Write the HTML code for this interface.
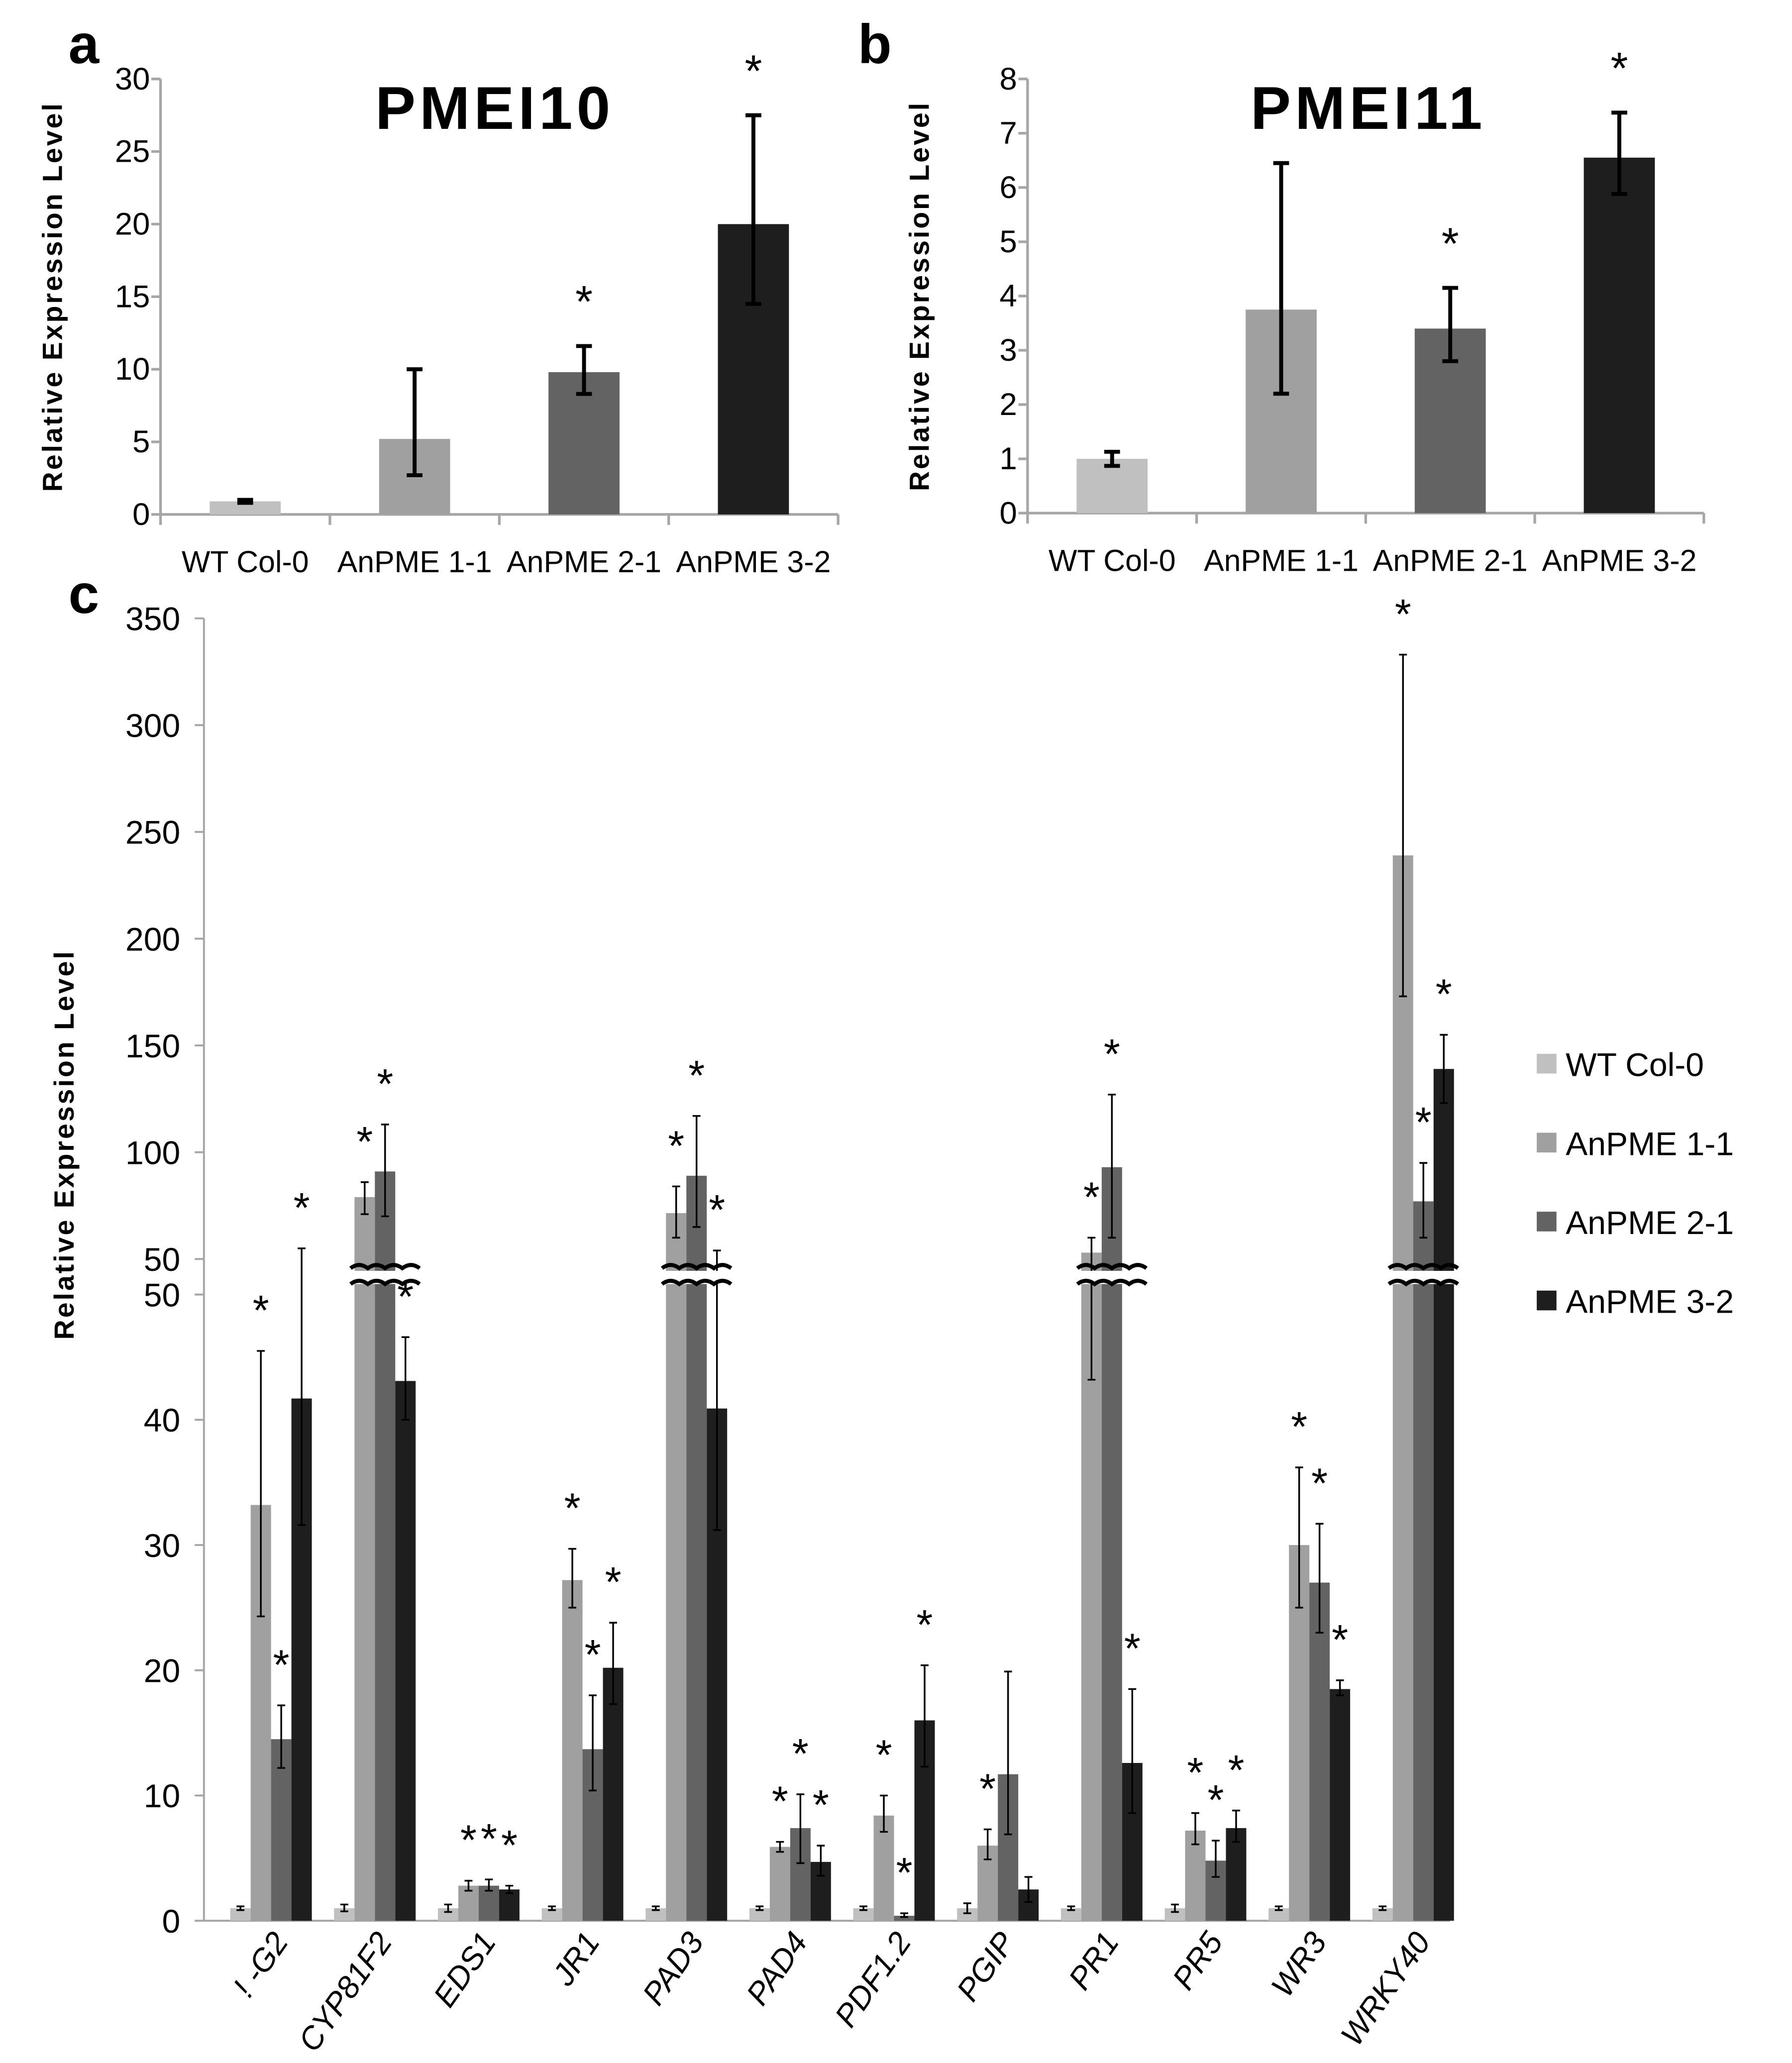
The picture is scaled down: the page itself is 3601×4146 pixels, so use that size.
<!DOCTYPE html>
<html><head><meta charset="utf-8"><style>
html,body{margin:0;padding:0;background:#fff;}
svg{display:block;}
text{font-family:"Liberation Sans Narrow","Liberation Sans",sans-serif;fill:#000;}
.b{font-family:"Liberation Sans",sans-serif;font-weight:bold;}
</style></head><body>
<svg id="fig" xmlns="http://www.w3.org/2000/svg" width="3601" height="4146" viewBox="0 0 1362 1568.1">
<rect width="1362" height="1568.1" fill="#fff"/>
<g id="ga"></g>
<g id="gb"></g>
<g id="gc"></g>
</svg>
<script>
const colors=["#c0c0c0","#a0a0a0","#636363","#1e1e1e"];
const seriesNames=["WT Col-0","AnPME 1-1","AnPME 2-1","AnPME 3-2"];
// panel a
const aVals=[0.9,5.2,9.8,20];
const aLo=[0.8,2.7,8.3,14.5];
const aHi=[1.0,10,11.6,27.5];
const aStar=[false,false,true,true];
const aTicks=[0,5,10,15,20,25,30];
// panel b
const bVals=[1.0,3.75,3.4,6.55];
const bLo=[0.87,2.2,2.8,5.88];
const bHi=[1.13,6.45,4.15,7.38];
const bStar=[false,false,true,true];
const bTicks=[0,1,2,3,4,5,6,7,8];
// panel c
const genes=["! -G2","CYP81F2","EDS1","JR1","PAD3","PAD4","PDF1.2","PGIP","PR1","PR5","WR3","WRKY40"];
const cWT=[1,1,1,1,1,1,1,1,1,1,1,1];
const cWTlo=[0.85,0.75,0.7,0.85,0.85,0.85,0.85,0.6,0.85,0.7,0.85,0.85];
const cWThi=[1.15,1.3,1.3,1.15,1.15,1.15,1.15,1.4,1.15,1.3,1.15,1.15];
const c11=[33.2,79,2.8,27.2,71.5,5.9,8.4,6,53,7.2,30,239];
const c11lo=[24.3,71,2.4,25,60,5.5,7.1,4.9,43.2,6.1,25,173];
const c11hi=[45.5,86,3.2,29.7,84,6.3,10,7.3,60,8.6,36.2,333];
const c21=[14.5,91,2.8,13.7,89,7.4,0.4,11.7,93,4.8,27,77];
const c21lo=[12.2,70,2.4,10.4,65,4.6,0.3,6.9,60,3.5,23,60];
const c21hi=[17.2,113,3.3,18,117,10.1,0.6,19.9,127,6.4,31.7,95];
const c32=[41.7,43.1,2.5,20.2,40.9,4.7,16,2.5,12.6,7.4,18.5,139];
const c32lo=[31.6,40,2.2,17.3,31.2,3.6,12.3,1.5,8.6,6.3,18,123];
const c32hi=[55,46.6,2.8,23.8,54,6,20.4,3.5,18.5,8.8,19.2,155];
const cStar11=[1,1,1,1,1,1,1,1,1,1,1,1];
const cStar21=[1,1,1,1,1,1,1,0,1,1,1,1];
const cStar32=[1,1,1,1,1,1,1,0,1,1,1,1];
const cStarWT=[0,0,0,0,0,0,0,0,0,0,0,0];
const cLowTicks=[0,10,20,30,40,50];
const cHighTicks=[50,100,150,200,250,300,350];

const NS="http://www.w3.org/2000/svg";
function mk(parent,tag,attrs,txt){const e=document.createElementNS(NS,tag);for(const k in attrs)e.setAttribute(k,attrs[k]);if(txt!==undefined)e.textContent=txt;parent.appendChild(e);return e;}

function smallPanel(g,vals,lo,hi,stars,ticks,o){
  const y=v=>o.y0-(v/o.max)*(o.y0-o.yTop);
  const ax=mk(g,'line',{x1:o.x0,y1:o.yTop,x2:o.x0,y2:o.y0,stroke:'#a6a6a6','stroke-width':2});
  
  
  const xa=mk(g,'line',{x1:o.x0,y1:o.y0,x2:o.x1,y2:o.y0,stroke:'#a6a6a6','stroke-width':2});
  
  
  ticks.forEach(t=>{
    mk(g,'line',{x1:o.x0-7,y1:y(t),x2:o.x0,y2:y(t),stroke:'#a6a6a6','stroke-width':2});
    const tl=mk(g,'text',{x:o.x0-8,y:y(t)+8,'text-anchor':'end','font-size':24},String(t));
    
    
  });
  const cw=(o.x1-o.x0)/vals.length;
  for(let i=0;i<=vals.length;i++) mk(g,'line',{x1:o.x0+cw*i,y1:o.y0,x2:o.x0+cw*i,y2:o.y0+8,stroke:'#a6a6a6','stroke-width':2});
  vals.forEach((v,i)=>{
    const cx=o.x0+cw*(i+0.5), w=54;
    const r=mk(g,'rect',{x:cx-w/2,y:y(v),width:w,height:o.y0-y(v),fill:colors[i]});
    
    
    const eb=mk(g,'path',{d:`M${cx},${y(lo[i])}V${y(hi[i])}M${cx-6},${y(lo[i])}H${cx+6}M${cx-6},${y(hi[i])}H${cx+6}`,stroke:'#000','stroke-width':3,fill:'none'});
    
    
    if(stars[i]){const s=mk(g,'text',{x:cx,y:y(hi[i])-22,'text-anchor':'middle','font-size':34},'*');
      
      }
    const cl=mk(g,'text',{x:cx,y:o.y0+44,'text-anchor':'middle','font-size':23},seriesNames[i]);
    
    
  });
  const t=mk(g,'text',{x:o.tx,y:98,'text-anchor':'middle','font-size':46,class:'b','letter-spacing':3},o.title);
  
  
  const yl=mk(g,'text',{x:0,y:0,transform:`translate(${o.x0-75},${(o.yTop+o.y0)/2}) rotate(-90)`,'text-anchor':'middle','font-size':21,class:'b','letter-spacing':1.5},'Relative Expression Level');
  
  
  const pl=mk(g,'text',{x:o.lx,y:48,'font-size':42,class:'b'},o.letter);
  
  
}
smallPanel(document.getElementById('ga'),aVals,aLo,aHi,aStar,aTicks,{x0:122,x1:637,yTop:60,y0:391,max:30,title:'PMEI10',tx:376,letter:'a',lx:52});
smallPanel(document.getElementById('gb'),bVals,bLo,bHi,bStar,bTicks,{x0:781,x1:1295,yTop:60,y0:390,max:8,title:'PMEI11',tx:1040,letter:'b',lx:652});

// panel c
const gc=document.getElementById('gc');
const X0=155,X1=1102,Y0=1460,Y50L=984,Y50H=957,YTOP=470;
function yc(v){ if(v<=50) return Y0-v*(Y0-Y50L)/50; return Y50H-(v-50)*(Y50H-YTOP)/300; }
const cax=mk(gc,'line',{x1:X0,y1:YTOP,x2:X0,y2:Y0,stroke:'#a6a6a6','stroke-width':1.5});


const cxa=mk(gc,'line',{x1:X0,y1:Y0,x2:X1,y2:Y0,stroke:'#a6a6a6','stroke-width':1.5});


cLowTicks.forEach(t=>{mk(gc,'line',{x1:X0-7,y1:Y0-t*(Y0-Y50L)/50,x2:X0,y2:Y0-t*(Y0-Y50L)/50,stroke:'#a6a6a6','stroke-width':1.5});
  const l=mk(gc,'text',{x:X0-18,y:Y0-t*(Y0-Y50L)/50+9,'text-anchor':'end','font-size':25},String(t));
  
  });
cHighTicks.forEach(t=>{const yy=Y50H-(t-50)*(Y50H-YTOP)/300;mk(gc,'line',{x1:X0-7,y1:yy,x2:X0,y2:yy,stroke:'#a6a6a6','stroke-width':1.5});
  const l=mk(gc,'text',{x:X0-18,y:yy+9,'text-anchor':'end','font-size':25},String(t));
  
  });
const ser=[[cWT,cWTlo,cWThi,cStarWT],[c11,c11lo,c11hi,cStar11],[c21,c21lo,c21hi,cStar21],[c32,c32lo,c32hi,cStar32]];
const cw=(X1-X0)/genes.length, bw=15.5;
genes.forEach((gname,i)=>{
  const gx=X0+cw*i+20;
  let broken=false;
  ser.forEach((s,k)=>{
    const v=s[0][i], x=gx+k*bw, cxm=x+bw/2;
    if(v>50) broken=true;
    const r=mk(gc,'rect',{x:x,y:yc(v),width:bw,height:Y0-yc(v),fill:colors[k]});
    
    
    const lo=yc(s[1][i]),hi=yc(s[2][i]);
    const eb=mk(gc,'path',{d:`M${cxm},${lo}V${hi}M${cxm-3},${lo}H${cxm+3}M${cxm-3},${hi}H${cxm+3}`,stroke:'#000','stroke-width':1.3,fill:'none'});
    
    
  });
  if(broken){
    const bx=gx+bw-3, bwid=bw*3+6;
    mk(gc,'rect',{x:bx,y:966,width:bwid,height:10,fill:'#fff'});
    for(const yy of [964,976]){
      let d=`M${bx},${yy}`;
      for(let j=0;j<4;j++){const x=bx+j*bwid/4;d+=` Q${x+bwid/8},${yy-5} ${x+bwid/4},${yy}`;}
      mk(gc,'path',{d:d,stroke:'#000','stroke-width':3,fill:'none'});
    }
  }
  ser.forEach((s,k)=>{
    if(!s[3][i])return;
    const cxm=gx+k*bw+bw/2;
    const st=mk(gc,'text',{x:cxm,y:yc(s[2][i])-20,'text-anchor':'middle','font-size':32},'*');
    
    
  });
  const gcx=gx+bw*2;
  const lab=mk(gc,'text',{x:0,y:0,transform:`translate(${gcx+14},${Y0+16}) rotate(-55)`,'text-anchor':'end','font-size':24,'font-style':'italic'},gname);
  
  
});
const ycl=mk(gc,'text',{x:0,y:0,transform:`translate(56,870) rotate(-90)`,'text-anchor':'middle','font-size':21,class:'b','letter-spacing':1.5},'Relative Expression Level');


const pc=mk(gc,'text',{x:52,y:466,'font-size':42,class:'b'},'c');


seriesNames.forEach((n,k)=>{
  const yy=809+k*60;
  const sw=mk(gc,'rect',{x:1168,y:yy-8,width:15,height:15,fill:colors[k]});
  
  
  const lt=mk(gc,'text',{x:1190,y:yy+9,'font-size':25,'font-family':'"Liberation Sans",sans-serif'},n);
  
  
});
</script>
</body></html>
